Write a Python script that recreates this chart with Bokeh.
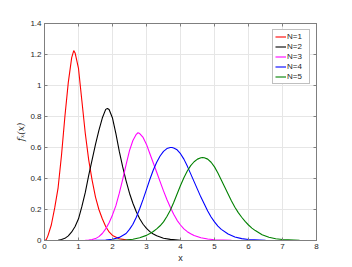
from bokeh.plotting import figure
from bokeh.models import LinearAxis, FixedTicker, Legend, LegendItem, Range1d
from bokeh.embed import file_html
from bokeh.resources import INLINE

# ---- data ----
x_ticks = [0, 1, 2, 3, 4, 5, 6, 7, 8]
y_ticks = [0, 0.2, 0.4, 0.6, 0.8, 1.0, 1.2, 1.4]
y_tick_labels = ["0", "0.2", "0.4", "0.6", "0.8", "1", "1.2", "1.4"]

series_names = ["N=1", "N=2", "N=3", "N=4", "N=5"]
series_colors = ["#ff0000", "#000000", "#ff00ff", "#0000ff", "#008000"]

n1_x = [0.0, 0.05, 0.1, 0.2, 0.3, 0.4, 0.5, 0.6, 0.7, 0.8, 0.86, 0.9, 1.0, 1.1, 1.2, 1.3,
        1.4, 1.5, 1.6, 1.7, 1.8, 1.9, 2.0, 2.2, 2.4, 2.6, 3.0, 3.3]
n1_y = [0, 0.005, 0.03, 0.10, 0.21, 0.34, 0.55, 0.80, 1.02, 1.18, 1.225, 1.21, 1.11, 0.90,
        0.69, 0.52, 0.39, 0.28, 0.20, 0.14, 0.09, 0.055, 0.033, 0.011, 0.004, 0.001, 0, 0]

n2_x = [0.2, 0.4, 0.5, 0.6, 0.7, 0.8, 0.9, 1.0, 1.1, 1.2, 1.3, 1.4, 1.5, 1.6, 1.7, 1.8,
        1.85, 1.9, 2.0, 2.1, 2.2, 2.3, 2.4, 2.5, 2.6, 2.7, 2.8, 2.9, 3.0, 3.1, 3.2, 3.3,
        3.5, 3.7, 4.0, 4.5, 4.8]
n2_y = [0, 0.002, 0.006, 0.014, 0.03, 0.055, 0.09, 0.14, 0.22, 0.31, 0.42, 0.52, 0.62,
        0.71, 0.79, 0.846, 0.852, 0.845, 0.79, 0.69, 0.575, 0.475, 0.385, 0.305, 0.24,
        0.185, 0.14, 0.105, 0.078, 0.057, 0.042, 0.03, 0.015, 0.007, 0.002, 0, 0]

n3_x = [0.6, 1.2, 1.3, 1.4, 1.5, 1.6, 1.7, 1.8, 1.9, 2.0, 2.1, 2.2, 2.3, 2.4, 2.5, 2.6,
        2.7, 2.75, 2.8, 2.9, 3.0, 3.1, 3.2, 3.3, 3.4, 3.5, 3.6, 3.7, 3.8, 3.9, 4.0, 4.1,
        4.2, 4.3, 4.4, 4.6, 4.8, 5.0, 5.5, 6.0, 8.0]
n3_y = [0, 0.001, 0.003, 0.006, 0.012, 0.025, 0.045, 0.075, 0.115, 0.165, 0.225, 0.305,
        0.395, 0.49, 0.58, 0.645, 0.685, 0.695, 0.69, 0.665, 0.62, 0.56, 0.50, 0.44, 0.38,
        0.32, 0.265, 0.215, 0.17, 0.13, 0.10, 0.075, 0.057, 0.043, 0.032, 0.018, 0.01,
        0.005, 0.001, 0, 0]

n4_x = [0.9, 1.5, 1.8, 2.0, 2.2, 2.4, 2.5, 2.6, 2.7, 2.8, 2.9, 3.0, 3.1, 3.2, 3.3, 3.4,
        3.5, 3.6, 3.7, 3.75, 3.8, 3.9, 4.0, 4.1, 4.2, 4.3, 4.4, 4.5, 4.6, 4.7, 4.8, 4.9,
        5.0, 5.1, 5.2, 5.4, 5.6, 5.8, 6.0, 6.5, 7.0, 8.0]
n4_y = [0, 0.001, 0.003, 0.008, 0.02, 0.045, 0.072, 0.105, 0.15, 0.205, 0.265, 0.33,
        0.395, 0.455, 0.505, 0.545, 0.575, 0.593, 0.60, 0.60, 0.597, 0.585, 0.56, 0.525,
        0.48, 0.43, 0.38, 0.33, 0.28, 0.235, 0.19, 0.152, 0.12, 0.093, 0.072, 0.042,
        0.023, 0.012, 0.006, 0.001, 0, 0]

n5_x = [1.2, 2.0, 2.4, 2.6, 2.8, 3.0, 3.1, 3.2, 3.3, 3.4, 3.5, 3.6, 3.7, 3.8, 3.9, 4.0,
        4.1, 4.2, 4.3, 4.4, 4.5, 4.6, 4.65, 4.7, 4.8, 4.9, 5.0, 5.1, 5.2, 5.3, 5.4, 5.5,
        5.6, 5.7, 5.8, 5.9, 6.0, 6.1, 6.2, 6.4, 6.6, 6.8, 7.0, 7.5, 8.0]
n5_y = [0, 0.001, 0.003, 0.008, 0.018, 0.033, 0.045, 0.058, 0.075, 0.095, 0.12, 0.155,
        0.195, 0.245, 0.30, 0.355, 0.405, 0.448, 0.483, 0.508, 0.525, 0.534, 0.535,
        0.534, 0.525, 0.505, 0.475, 0.435, 0.39, 0.345, 0.30, 0.255, 0.215, 0.18, 0.15,
        0.123, 0.10, 0.08, 0.064, 0.037, 0.021, 0.011, 0.006, 0.001, 0]

series_x = [n1_x, n2_x, n3_x, n4_x, n5_x]
series_y = [n1_y, n2_y, n3_y, n4_y, n5_y]

# ---- figure ----
AX = "#7f7f7f"
TXT = "#262626"
FONT = "Liberation Sans"

p = figure(width=352, height=267, x_range=Range1d(0, 8), y_range=Range1d(0, 1.4),
           output_backend="svg", toolbar_location=None,
           min_border_left=44, min_border_right=36, min_border_top=23, min_border_bottom=27)
p.background_fill_color = "white"
p.border_fill_color = "white"
p.outline_line_color = AX
p.outline_line_width = 1

for ax in (p.xaxis[0], p.yaxis[0]):
    ax.axis_line_color = AX
    ax.major_tick_line_color = AX
    ax.major_tick_in = 3
    ax.major_tick_out = 0
    ax.minor_tick_line_color = None
    ax.major_label_text_font = FONT
    ax.major_label_text_font_size = "8px"
    ax.major_label_text_color = TXT
    ax.major_label_standoff = 3
    ax.axis_label_standoff = 1
    ax.axis_label_text_color = TXT
    ax.axis_label_text_font_size = "9px"

p.xaxis.ticker = FixedTicker(ticks=x_ticks)
p.yaxis.ticker = FixedTicker(ticks=y_ticks)
p.yaxis.major_label_overrides = {t: s for t, s in zip(y_ticks, y_tick_labels)}
p.xaxis.axis_label = "x"
p.xaxis.axis_label_text_font = FONT
p.xaxis.axis_label_text_font_style = "normal"
p.yaxis.axis_label = "fₓ(x)"
p.yaxis.axis_label_text_font = "DejaVu Serif"
p.yaxis.axis_label_text_font_style = "italic"
p.yaxis.axis_label_standoff = 1

# top and right box axes (ticks only)
top = LinearAxis(ticker=FixedTicker(ticks=x_ticks))
right = LinearAxis(ticker=FixedTicker(ticks=y_ticks))
for ax, ticks in ((top, x_ticks), (right, y_ticks)):
    ax.axis_line_color = AX
    ax.major_tick_line_color = AX
    ax.major_tick_in = 3
    ax.major_tick_out = 0
    ax.minor_tick_line_color = None
    ax.major_label_overrides = {t: "" for t in ticks}
    ax.major_label_standoff = 0
    ax.major_label_text_font_size = "8px"
p.add_layout(top, "above")
p.add_layout(right, "right")

p.xgrid.ticker = FixedTicker(ticks=x_ticks)
p.ygrid.ticker = FixedTicker(ticks=y_ticks)
p.xgrid.grid_line_color = "#e6e6e6"
p.ygrid.grid_line_color = "#e6e6e6"

items = []
for name, color, xs, ys in zip(series_names, series_colors, series_x, series_y):
    r = p.line(xs, ys, line_color=color, line_width=1.1)
    items.append(LegendItem(label=name, renderers=[r]))

legend = Legend(items=items, location="top_right")
legend.label_text_font = FONT
legend.label_text_font_size = "8px"
legend.label_text_color = TXT
legend.glyph_width = 11
legend.glyph_height = 9
legend.label_height = 9
legend.label_standoff = 1
legend.spacing = 1
legend.padding = 2
legend.margin = 6
legend.border_line_color = AX
legend.border_line_width = 1
legend.background_fill_color = "white"
legend.background_fill_alpha = 1
p.add_layout(legend)

open("out.html", "w").write(file_html(p, INLINE))
